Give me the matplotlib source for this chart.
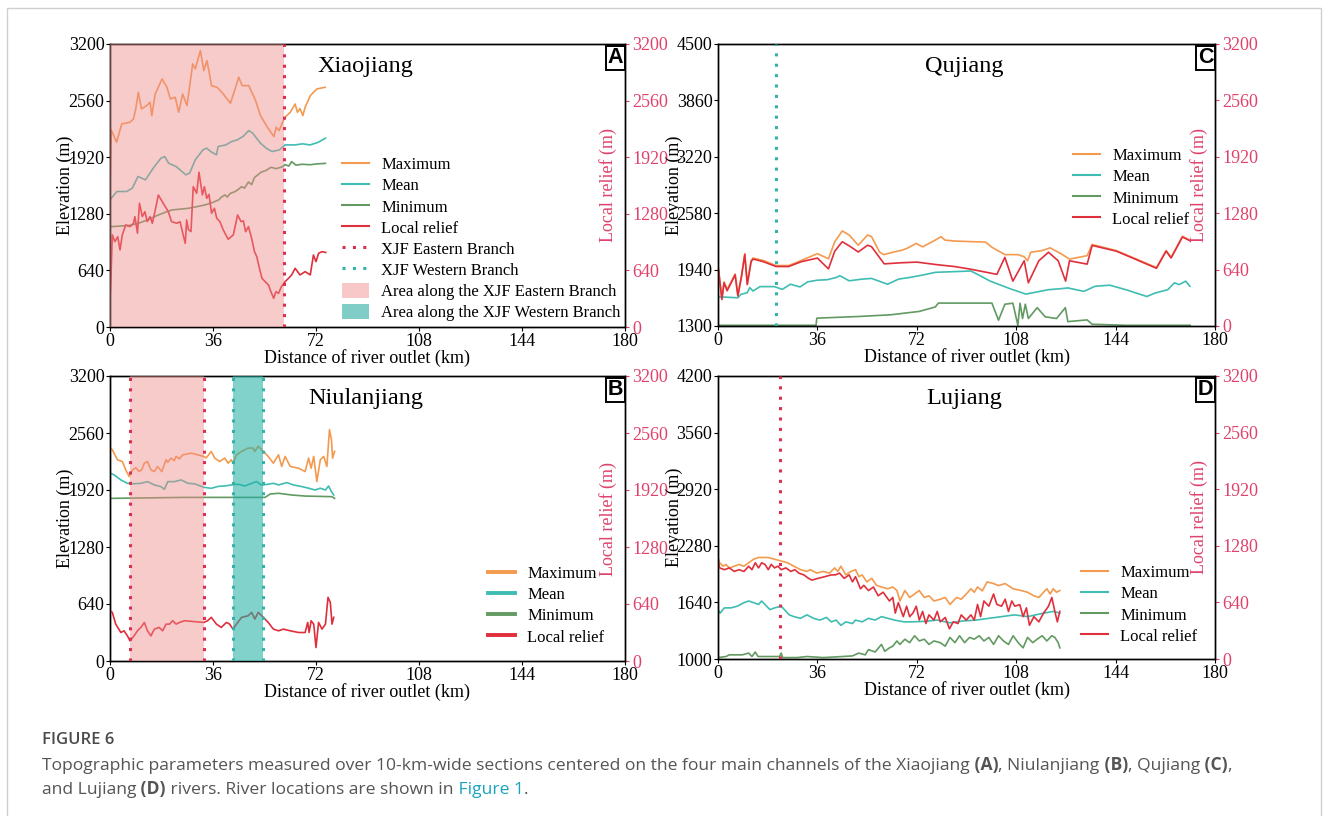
"""
plot.py

Topographic parameters (maximum, mean, minimum elevation and local relief)
along the four main channels: Xiaojiang, Niulanjiang, Qujiang, Lujiang.
"""

import matplotlib.pyplot as plt
from matplotlib.lines import Line2D
from matplotlib.patches import Patch, Rectangle

W, H = 1328, 816

# ---------------- Panel A: Xiaojiang ----------------
a_max_km = [0, 0.4, 0.8, 2.3, 4.1, 7.0, 8.2, 9.0, 9.9, 11.0, 12.8, 14.0, 14.6, 15.8,
            18.2, 19.9, 21.1, 22.8, 24.0, 25.4, 26.9, 28.9, 29.8, 31.6, 32.8, 33.9,
            35.5, 37.4, 39.2, 42.1, 43.9, 45.0, 46.2, 48.5, 50.9, 52.6, 55.0, 57.3,
            58.1, 59.1, 60.3, 61.2, 63.0, 64.7, 65.5, 66.4, 67.4, 68.2, 69.0, 70.0,
            72.3, 75.2]
a_max = [1550, 2230, 2202, 2089, 2296, 2315, 2352, 2466, 2654, 2466, 2503, 2541, 2390,
         2635, 2805, 2711, 2579, 2598, 2428, 2635, 2503, 2975, 2918, 3125, 2899, 3012,
         2729, 2711, 2650, 2530, 2711, 2824, 2729, 2729, 2560, 2390, 2259, 2153, 2259,
         2220, 2315, 2372, 2428, 2522, 2428, 2470, 2390, 2485, 2541, 2616, 2692, 2711]
a_mean_km = [0, 2.4, 5.8, 7.8, 9.8, 12.4, 15.1, 17.8, 19.1, 20.5, 23.1, 26.5, 27.8,
             29.8, 32.5, 33.8, 35.2, 37.2, 37.8, 40.5, 42.5, 44.5, 46.5, 48.5, 49.9,
             52.6, 54.6, 56.6, 59.2, 61.2, 64.6, 67.3, 69.9, 72.6, 75.3]
a_mean = [1438, 1532, 1532, 1570, 1702, 1664, 1796, 1909, 1928, 1852, 1815, 1721, 1739,
          1890, 2003, 2022, 1984, 1947, 2041, 2059, 2097, 2116, 2154, 2221, 2191, 2078,
          2022, 1984, 2003, 2059, 2059, 2071, 2059, 2086, 2135]
a_min_km = [0.3, 3, 7, 10, 13, 16.9, 21.5, 27.4, 33.2, 36, 37.9, 39, 40.2, 41, 42, 43.7,
            45, 46, 47, 48.4, 49.5, 50.5, 52.8, 54.5, 56.3, 58, 60.3, 61.2, 62.5, 63.5,
            65, 67, 70, 72.5, 75.3]
a_min = [1135, 1140, 1150, 1173, 1210, 1267, 1323, 1342, 1380, 1410, 1436, 1470, 1493,
         1470, 1510, 1531, 1560, 1587, 1570, 1640, 1610, 1690, 1750, 1770, 1806, 1790,
         1812, 1836, 1820, 1870, 1830, 1840, 1835, 1845, 1850]
a_rel_km = [0, 0.35, 0.8, 1.7, 2.7, 3.5, 4.3, 5.5, 7.0, 8.2, 8.7, 9.6, 10.3, 11.3, 12.2,
            13.0, 14.0, 14.8, 15.7, 16.9, 18.6, 20.4, 21.5, 23.3, 24.5, 25.3, 26.3, 26.8,
            27.4, 28.3, 29.1, 30.3, 31.1, 32.3, 33.0, 33.8, 34.6, 35.5, 36.5, 37.3, 38.4,
            39.6, 41.3, 43.1, 44.6, 45.8, 46.6, 47.4, 48.4, 49.5, 50.5, 51.3, 52.1, 53.1,
            54.2, 55.4, 56.0, 57.2, 58.0, 58.9, 59.9, 61.2, 62.4, 63.5, 64.7, 66.4, 68.2,
            70.0, 71.1, 72.0, 72.9, 74.1, 75.4]
a_rel = [300, 569, 1041, 965, 1021, 871, 1041, 1154, 1135, 1173, 1248, 1060, 1399, 1248,
         1304, 1192, 1248, 1173, 1304, 1493, 1399, 1304, 1192, 1173, 1190, 1078, 946, 1211,
         1100, 1080, 1587, 1512, 1750, 1493, 1587, 1455, 1500, 1286, 1342, 1230, 1192,
         1097, 992, 1041, 1267, 1192, 1200, 1078, 1135, 1003, 852, 796, 682, 551, 513, 475,
         419, 324, 400, 380, 456, 513, 551, 589, 664, 589, 626, 589, 814, 739, 833, 852, 843]
a_east_km = [60.8]
a_east_span = [0, 60.8]

# ---------------- Panel B: Niulanjiang ----------------
b_max_km = [0, 0.8, 2.6, 4.3, 5.5, 6.7, 7.9, 9.0, 10.2, 11.1, 12.0, 13.1, 14.3, 15.5,
            16.6, 18.1, 19.6, 20.2, 21.3, 22.5, 23.1, 24.3, 25.4, 28.4, 32.8, 33.6, 35.4,
            36.6, 38.3, 40.1, 41.3, 42.4, 43.0, 44.2, 46.0, 48.3, 50.0, 50.6, 51.8, 53.6,
            55.3, 57.1, 58.9, 60.0, 61.2, 63.0, 65.9, 68.2, 69.4, 70.3, 71.2, 72.3, 73.5,
            74.7, 75.8, 76.7, 77.4, 77.8, 78.5]
b_max = [2391, 2372, 2259, 2240, 2146, 2071, 2146, 2170, 2127, 2150, 2221, 2240, 2146, 2127,
         2184, 2127, 2259, 2230, 2278, 2250, 2297, 2270, 2315, 2334, 2297, 2280, 2353, 2278,
         2240, 2278, 2221, 2259, 2221, 2315, 2353, 2391, 2391, 2353, 2410, 2353, 2297, 2221,
         2315, 2184, 2297, 2184, 2165, 2127, 2278, 2165, 2297, 2014, 2259, 2297, 2184, 2598,
         2485, 2278, 2353]
b_mean_km = [0, 1.4, 3.8, 6.1, 8.4, 10.8, 13.1, 15.5, 17.8, 19.0, 20.2, 22.5, 24.9, 27.2,
             29.5, 32.8, 35.4, 37.7, 40.1, 42.4, 44.8, 47.1, 49.5, 51.2, 53.0, 55.3, 57.1,
             58.9, 61.8, 64.1, 67.1, 69.4, 71.7, 73.5, 75.3, 76.4, 77.4, 78.2]
b_mean = [2110, 2090, 2033, 1995, 1990, 1995, 2014, 1977, 1958, 1928, 2014, 2014, 2033,
          1995, 1990, 1950, 1939, 1960, 1965, 1977, 1985, 1965, 1995, 2014, 1975, 1985,
          1995, 1977, 2003, 1977, 1958, 1940, 1920, 1940, 1920, 1965, 1901, 1864]
b_min_km = [0, 26, 54.2, 56, 58.9, 63.5, 68.2, 77.6, 78.5]
b_min = [1826, 1837, 1837, 1875, 1883, 1864, 1852, 1845, 1826]
b_rel_km = [0, 0.8, 2.0, 3.8, 4.9, 6.1, 7.0, 8.4, 9.6, 10.8, 12.0, 13.1, 14.3, 15.5, 17.2,
            18.4, 19.6, 20.8, 21.9, 23.1, 24.3, 26.0, 32.8, 34.1, 35.4, 37.2, 38.9, 40.7,
            41.8, 43.0, 44.2, 46.0, 48.3, 49.5, 50.6, 51.8, 53.6, 55.3, 57.1, 58.9, 60.6,
            63.0, 65.9, 68.2, 69.1, 69.6, 70.3, 71.2, 72.0, 72.9, 74.1, 75.3, 76.2, 77.0,
            77.6, 78.2]
b_rel = [565, 546, 414, 320, 339, 282, 226, 282, 339, 377, 433, 339, 282, 358, 377, 339,
         414, 414, 452, 414, 433, 452, 433, 452, 490, 414, 377, 433, 414, 358, 414, 490,
         508, 546, 471, 546, 490, 433, 358, 339, 358, 339, 320, 320, 433, 320, 452, 414,
         151, 433, 358, 414, 715, 659, 414, 490]
b_east_km = [7.0, 33.0]
b_west_km = [43.0, 53.6]

# ---------------- Panel C: Qujiang ----------------
c_max_km = [0.2, 1.4, 2.2, 3.3, 4.6, 6.2, 7.2, 8.5, 9.7, 10.6, 12.0, 12.7, 16.4, 21.0,
            25.6, 30.2, 36.0, 40.0, 42.3, 45.0, 47.5, 50.8, 54.2, 55.6, 58.5, 60.0, 63.7,
            66.6, 68.3, 71.8, 74.1, 78.7, 80.8, 82.2, 85.6, 96.9, 99.2, 103.9, 108.6,
            110.9, 112.1, 113.3, 117.4, 120.3, 124.4, 127.3, 133.7, 135.5, 144.2, 150.1,
            158.8, 162.3, 164.1, 168.2, 171.1]
c_max = [1948, 1620, 1800, 1716, 1793, 1890, 1650, 1871, 2121, 1780, 2044, 2071, 2044,
         1986, 1986, 2044, 2121, 2063, 2256, 2379, 2333, 2217, 2333, 2314, 2140, 2110,
         2140, 2160, 2179, 2237, 2198, 2275, 2314, 2275, 2264, 2252, 2194, 2110, 2110,
         2086, 2040, 2137, 2156, 2187, 2117, 2059, 2098, 2225, 2156, 2079, 1963, 2156,
         2079, 2318, 2271]
c_mean_km = [0, 7.2, 8.3, 10.6, 11.5, 12.7, 15.2, 20.4, 23.3, 26.2, 29.7, 32.5, 36, 39.5,
             42.9, 44.1, 47.5, 52.2, 55.6, 61.4, 65.4, 69.5, 74.1, 78.7, 85.6, 91.6, 94,
             98.6, 105.7, 111.5, 119.7, 124.4, 126.7, 132.5, 136.6, 141.9, 147.7, 155.3,
             158.3, 162.9, 165.3, 167, 169.4, 170.9]
c_mean = [1632, 1620, 1659, 1678, 1736, 1697, 1747, 1747, 1716, 1774, 1743, 1801, 1820,
          1825, 1851, 1871, 1813, 1832, 1840, 1774, 1832, 1851, 1878, 1909, 1917, 1924,
          1886, 1809, 1724, 1662, 1712, 1724, 1732, 1693, 1751, 1763, 1712, 1635, 1674,
          1712, 1790, 1770, 1809, 1751]
c_min_km = [0, 35.5, 35.8, 51, 62.5, 73, 78.7, 79.8, 99.2, 101.6, 103.9, 106.8, 108.6,
            109.4, 110.3, 111.3, 112.4, 115.6, 118.5, 122.6, 125.8, 126.7, 133.7, 135.5,
            147.7, 171]
c_min = [1308, 1308, 1389, 1408, 1427, 1466, 1516, 1560, 1560, 1366, 1547, 1559, 1308,
         1559, 1385, 1547, 1385, 1508, 1404, 1385, 1508, 1350, 1369, 1320, 1308, 1308]
c_rel_km = [0.2, 1.4, 2.2, 3.3, 4.6, 6.2, 7.2, 8.5, 9.7, 10.6, 12.0, 12.7, 16.4, 21.0,
            25.6, 30.2, 36.0, 40.0, 42.3, 45.0, 47.5, 50.8, 54.2, 55.6, 60.2, 66, 72, 79.8,
            85.6, 91.6, 101, 103.9, 106.8, 110.9, 112.4, 116.2, 119.7, 123.2, 125.9, 127.3,
            133.7, 135.5, 144.2, 150.1, 158.8, 162.3, 164.1, 168.2, 171.1]
c_rel = [630, 300, 490, 400, 480, 580, 340, 560, 810, 470, 730, 760, 730, 675, 675, 730,
         771, 648, 850, 956, 910, 840, 917, 900, 705, 717, 725, 694, 675, 644, 586, 779,
         509, 740, 490, 740, 837, 740, 509, 740, 702, 914, 850, 772, 655, 850, 772, 1010, 965]
c_west_km = [21.0]

# ---------------- Panel D: Lujiang ----------------
d_max_km = [0, 0.6, 1.8, 2.9, 4.1, 5.9, 7.6, 9.4, 11.1, 12.9, 14.7, 18.2, 20.5, 22.9,
            25.2, 27.5, 29.9, 32.2, 33.4, 35.8, 38.1, 40.4, 42.2, 43.4, 44.5, 46.3, 48.1,
            49.8, 51.0, 52.2, 53.9, 55.7, 57.4, 59.2, 61.5, 63.3, 64.8, 65.9, 67.7, 69.4,
            71.2, 72.9, 74.7, 76.4, 78.2, 80.5, 82.3, 84.0, 86.4, 88.1, 89.9, 91.6, 92.8,
            94.0, 95.7, 97.5, 99.8, 101.6, 104.0, 106.9, 109.8, 112.1, 114.4, 116.2, 117.9,
            119.1, 120.3, 121.4, 122.6, 123.8]
d_max = [2148, 2088, 2049, 2069, 2030, 2049, 2069, 2049, 2088, 2128, 2148, 2148, 2128,
         2108, 2088, 2049, 2010, 1990, 2010, 1971, 1990, 1971, 2030, 1990, 2049, 1951, 1990,
         2010, 1931, 1951, 1872, 1912, 1833, 1814, 1794, 1814, 1774, 1656, 1774, 1696, 1735,
         1774, 1696, 1715, 1656, 1676, 1696, 1617, 1696, 1676, 1735, 1794, 1755, 1814, 1770,
         1872, 1853, 1830, 1853, 1794, 1774, 1755, 1715, 1696, 1755, 1794, 1735, 1794, 1755,
         1774]
d_mean_km = [0, 0.8, 2.3, 4.7, 7.0, 9.4, 11.1, 12.9, 14.7, 15.8, 17.6, 18.8, 20.5, 22.9,
             24.0, 25.8, 27.5, 29.9, 32.2, 34.6, 36.9, 39.3, 41.0, 42.8, 44.5, 46.3, 48.7,
             49.8, 52.2, 54.5, 56.9, 59.2, 61.5, 63.9, 67.4, 70.0, 74.7, 79.4, 84.0, 88.7,
             93.4, 98.1, 102.7, 107.4, 112.1, 116.8, 121.4, 123.8]
d_mean = [1558, 1519, 1578, 1578, 1597, 1637, 1656, 1637, 1617, 1656, 1597, 1558, 1578,
          1597, 1560, 1499, 1479, 1460, 1499, 1460, 1440, 1470, 1420, 1440, 1381, 1420,
          1401, 1440, 1420, 1460, 1440, 1479, 1460, 1440, 1420, 1420, 1425, 1440, 1409,
          1430, 1440, 1460, 1479, 1499, 1479, 1511, 1538, 1520]
d_min_km = [0, 2.9, 4.1, 8.8, 11.1, 12.3, 13.5, 14.5, 18.2, 22.3, 22.9, 23.4, 28.7, 32.2,
            38.1, 45.1, 48.7, 51.0, 53.3, 54.5, 56.9, 59.2, 60.4, 62.1, 63.3, 64.8, 65.9,
            67.7, 69.4, 71.2, 72.9, 74.7, 76.4, 78.2, 80.5, 82.3, 84.0, 85.8, 87.5, 89.3,
            91.1, 92.8, 94.6, 96.3, 98.1, 99.8, 101.6, 103.4, 105.2, 106.9, 108.7, 110.5,
            112.1, 114.0, 115.6, 117.4, 119.1, 120.9, 122.0, 123.2, 123.8]
d_min = [1016, 1028, 1047, 1047, 1067, 1028, 1079, 1028, 1028, 1028, 1067, 1016, 1016,
         1028, 1016, 1028, 1035, 1067, 1047, 1106, 1079, 1165, 1087, 1126, 1145, 1204, 1165,
         1224, 1185, 1263, 1204, 1224, 1165, 1204, 1185, 1145, 1244, 1185, 1263, 1185, 1244,
         1224, 1263, 1204, 1244, 1165, 1263, 1204, 1165, 1263, 1185, 1126, 1244, 1185, 1224,
         1263, 1204, 1263, 1244, 1185, 1126]
d_rel_km = [0, 0.6, 2.3, 4.1, 5.9, 7.6, 9.4, 11.1, 12.3, 13.5, 14.7, 15.8, 17.0, 18.2,
            19.3, 20.5, 21.7, 22.9, 24.6, 26.4, 27.8, 29.3, 31.1, 32.8, 34.0, 36.0, 38.7,
            41.0, 42.5, 44.0, 45.7, 47.5, 48.7, 49.8, 51.6, 52.8, 54.5, 56.3, 58.0, 59.8,
            62.1, 63.3, 64.2, 65.3, 67.1, 68.3, 69.4, 70.6, 71.8, 72.9, 74.1, 75.3, 76.4,
            78.2, 79.4, 80.5, 82.3, 83.8, 85.2, 86.9, 88.1, 89.9, 91.6, 92.8, 94.0, 95.1,
            96.3, 98.1, 99.8, 101.0, 102.7, 104.0, 105.2, 106.4, 107.5, 109.3, 110.5, 111.7,
            112.8, 114.4, 116.2, 117.9, 119.7, 120.9, 122.0, 122.9, 123.8]
d_rel = [1108, 1030, 1010, 1030, 990, 1010, 990, 1049, 1010, 1088, 1030, 1088, 1070, 1010,
         1070, 1030, 1050, 1010, 1030, 990, 1010, 971, 951, 912, 892, 910, 931, 951, 951,
         971, 912, 951, 872, 931, 794, 833, 774, 814, 715, 755, 656, 696, 519, 637, 479,
         597, 479, 519, 597, 440, 538, 401, 499, 440, 538, 420, 470, 342, 420, 401, 499,
         440, 499, 440, 617, 479, 656, 597, 735, 617, 597, 676, 538, 656, 597, 615, 479,
         578, 381, 479, 420, 519, 597, 696, 538, 420, 538]
d_east_km = [22.5]

MAX_C = '#f39a4f'
MEAN_C = '#3fbdb2'
MIN_C = '#629a62'
REL_C = '#e02f3c'
EAST_C = '#d9304f'
WEST_C = '#35b2a6'
PINK = '#e0416b'
EAST_FILL = '#f08c8c'
WEST_FILL = '#20b0a5'
DOTS = (0, (1, 2.4))

plt.rcParams['font.family'] = ['Liberation Serif', 'DejaVu Serif']


def px_rect(left, top, right, bottom):
    return [left / W, 1 - bottom / H, (right - left) / W, (bottom - top) / H]


def make_panel(fig, rect, title, letter, ylo):
    ax = fig.add_axes(rect)
    ax2 = ax.twinx()
    ax.set_xlim(0, 180)
    ax.set_xticks([0, 36, 72, 108, 144, 180])
    ax.set_ylim(ylo, ylo + 3200)
    ax.set_yticks([ylo + 640 * i for i in range(6)])
    ax2.set_ylim(0, 3200)
    ax2.set_yticks([640 * i for i in range(6)])
    ax.tick_params(direction='out', length=3, width=0.8, pad=1, labelsize=13)
    ax2.tick_params(direction='out', length=3, width=0.8, pad=2, labelsize=13,
                    colors=PINK)
    for a in (ax, ax2):
        for s in a.spines.values():
            s.set_linewidth(1.0)
            s.set_color('black')
    ax.set_xlabel('Distance of river outlet (km)', fontsize=13, labelpad=0)
    ax.set_ylabel('Elevation (m)', fontsize=13)
    ax.yaxis.set_label_coords(-0.07, 0.5)
    ax2.text(0.968, 0.5, 'Local relief (m)', transform=ax2.transAxes, rotation=90,
             ha='center', va='center', fontsize=13, color=PINK)
    ax2.text(0.496, 0.92, title, transform=ax2.transAxes, ha='center', va='center',
             fontsize=17.5)
    ax2.text(0.997, 0.988, letter, transform=ax2.transAxes, ha='right', va='top',
             fontsize=15.5, weight='bold', family='Liberation Sans', zorder=10,
             bbox=dict(boxstyle='square,pad=0.08', fc='white', ec='black', lw=1.4))
    return ax, ax2


def draw_series(ax, ax2, mx_km, mx, mn_km, mn, lo_km, lo, rl_km, rl, lw=1.2):
    ax.plot(mx_km, mx, color=MAX_C, lw=lw)
    ax.plot(mn_km, mn, color=MEAN_C, lw=lw)
    ax.plot(lo_km, lo, color=MIN_C, lw=lw)
    ax2.plot(rl_km, rl, color=REL_C, lw=lw)


def add_legend(ax2, left, top, handles, labels, fontsize=12):
    leg = ax2.legend(handles, labels, loc='upper left', frameon=False,
                     bbox_to_anchor=(left / W, 1 - top / H),
                     bbox_transform=ax2.figure.transFigure,
                     fontsize=fontsize, handlelength=1.6, handletextpad=0.75,
                     handleheight=1.0, labelspacing=0.24, borderpad=0.4)
    leg.set_zorder(20)


def main():
    fig = plt.figure(figsize=(W / 100, H / 100), dpi=100)

    # outer frame of the figure card
    fig.patches.append(Rectangle((7 / W, -0.1), 1314 / W, 1.1 - 8 / H,
                                 transform=fig.transFigure, fill=False,
                                 ec='#cfcfcf', lw=1.0))

    base = [Line2D([], [], color=MAX_C, lw=1.5),
            Line2D([], [], color=MEAN_C, lw=1.5),
            Line2D([], [], color=MIN_C, lw=1.5),
            Line2D([], [], color=REL_C, lw=1.5)]
    base_labels = ['Maximum', 'Mean', 'Minimum', 'Local relief']

    # A
    ax, ax2 = make_panel(fig, px_rect(110, 44, 625, 327), 'Xiaojiang', 'A', 0)
    draw_series(ax, ax2, a_max_km, a_max, a_mean_km, a_mean, a_min_km, a_min,
                a_rel_km, a_rel)
    ax2.axvspan(a_east_span[0], a_east_span[1], color=EAST_FILL, alpha=0.45,
                lw=0, zorder=4)
    for k in a_east_km:
        ax2.axvline(k, color=EAST_C, lw=2.2, ls=DOTS, zorder=5)
    handles = base + [Line2D([], [], color=EAST_C, lw=2.2, ls=DOTS),
                      Line2D([], [], color=WEST_C, lw=2.2, ls=DOTS),
                      Patch(fc='#f8c8c8', ec='none'),
                      Patch(fc='#80cdc8', ec='none')]
    labels = base_labels + ['XJF Eastern Branch', 'XJF Western Branch',
                            'Area along the XJF Eastern Branch',
                            'Area along the XJF Western Branch']
    add_legend(ax2, 327, 141, handles, labels)

    # B
    ax, ax2 = make_panel(fig, px_rect(110, 376, 625, 661), 'Niulanjiang', 'B', 0)
    draw_series(ax, ax2, b_max_km, b_max, b_mean_km, b_mean, b_min_km, b_min,
                b_rel_km, b_rel)
    ax2.axvspan(b_east_km[0], b_east_km[1], color=EAST_FILL, alpha=0.45, lw=0,
                zorder=4)
    ax2.axvspan(b_west_km[0], b_west_km[1], color=WEST_FILL, alpha=0.57, lw=0,
                zorder=4)
    for k in b_east_km:
        ax2.axvline(k, color=EAST_C, lw=2.2, ls=DOTS, zorder=5)
    for k in b_west_km:
        ax2.axvline(k, color=WEST_C, lw=2.2, ls=DOTS, zorder=5)
    thick = [Line2D([], [], color=h.get_color(), lw=2.8) for h in base]
    add_legend(ax2, 473, 550, thick, base_labels)

    # C
    ax, ax2 = make_panel(fig, px_rect(718, 44, 1215, 326), 'Qujiang', 'C', 1300)
    draw_series(ax, ax2, c_max_km, c_max, c_mean_km, c_mean, c_min_km, c_min,
                c_rel_km, c_rel)
    for k in c_west_km:
        ax2.axvline(k, color=WEST_C, lw=2.2, ls=DOTS, zorder=5)
    add_legend(ax2, 1058, 132, base, base_labels)

    # D
    ax, ax2 = make_panel(fig, px_rect(718, 376, 1215, 659), 'Lujiang', 'D', 1000)
    draw_series(ax, ax2, d_max_km, d_max, d_mean_km, d_mean, d_min_km, d_min,
                d_rel_km, d_rel)
    for k in d_east_km:
        ax2.axvline(k, color=EAST_C, lw=2.2, ls=DOTS, zorder=5)
    add_legend(ax2, 1066, 549, base, base_labels)

    # caption
    cap = fig.add_axes([0, 0, 1, 1], zorder=-1)
    cap.axis('off')
    grey = '#555555'
    cfont = dict(family=['Open Sans', 'DejaVu Sans'], fontsize=12.6, color=grey)
    cap.text(42 / W, 1 - 740 / H, 'FIGURE 6', va='center', ha='left',
             family=['Open Sans', 'DejaVu Sans'], fontsize=12, color='#4a4a4a',
             weight='semibold')
    pieces1 = [('Topographic parameters measured over 10-km-wide sections centered on '
                'the four main channels of the Xiaojiang', 'normal', grey),
               (' (A)', 'bold', grey), (', Niulanjiang', 'normal', grey),
               (' (B)', 'bold', grey), (', Qujiang', 'normal', grey),
               (' (C)', 'bold', grey), (',', 'normal', grey)]
    pieces2 = [('and Lujiang', 'normal', grey), (' (D)', 'bold', grey),
               (' rivers. River locations are shown in', 'normal', grey),
               (' Figure 1', 'normal', '#1aa3bd'), ('.', 'normal', grey)]
    for y, pieces in ((766, pieces1), (790, pieces2)):
        prev = None
        for txt, wt, col in pieces:
            opts = dict(cfont)
            opts.update(weight=wt, color=col)
            if prev is None:
                prev = cap.text(42 / W, 1 - y / H, txt, va='center', ha='left', **opts)
            else:
                prev = cap.annotate(txt, xy=(1, 0), xycoords=prev, va='bottom',
                                    ha='left', **opts)

    fig.savefig('out.png', dpi=100)


if __name__ == '__main__':
    main()
